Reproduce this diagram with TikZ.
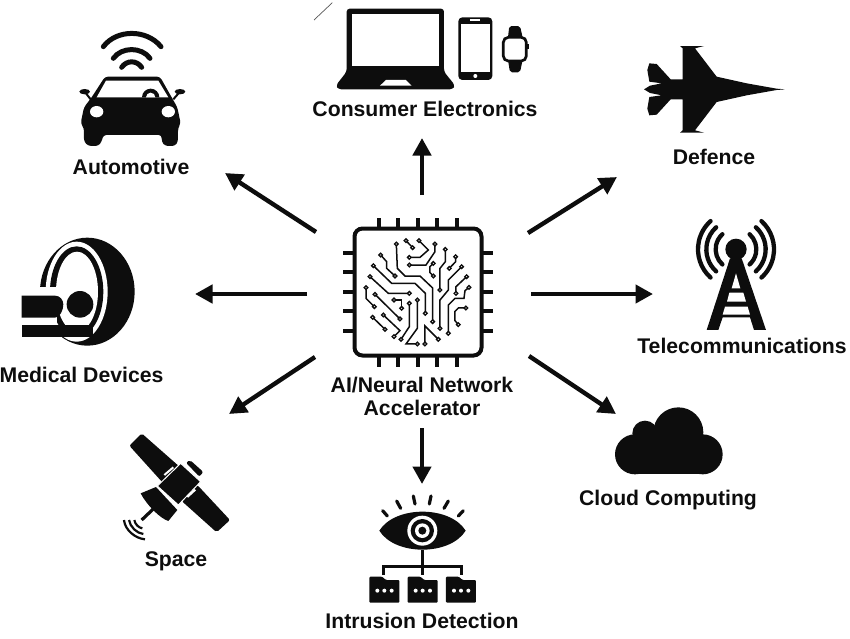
\documentclass[tikz,border=0pt]{standalone}
\usepackage{fontspec}
\setmainfont{Liberation Sans}
\usetikzlibrary{arrows.meta}
\definecolor{ink}{HTML}{0D0D0D}
% circuit trace with a small open pad on each end
\newcommand{\trace}[3]{\draw[line width=1.5pt,ink] (#1) #2 (#3);
	\fill[white,draw=ink,line width=1.3pt] (#1) circle (5.5);
	\fill[white,draw=ink,line width=1.3pt] (#3) circle (5.5);}

\begin{document}
\begin{tikzpicture}[x=1pt,y=-1pt,>={Triangle[width=18pt,length=17.5pt]}]
	\tikzstyle{lbl}=[font=\bfseries\fontsize{21.2}{23}\selectfont,text=ink,align=center,inner sep=0pt]
	\tikzstyle{link}=[->,line width=4.4pt,ink]
	\tikzstyle{zoomed}=[x=0.3333pt,y=-0.3333pt]
	\tikzstyle{lead}=[line width=4pt,ink]
	\tikzstyle{wave}=[line width=4.3pt,ink,line cap=round]
	\useasboundingbox (0,0) rectangle (850,638);

	% labels
	\node[lbl] (accel) at (422,396.5) {AI/Neural Network\\Accelerator};
	\node[lbl] (consumer) at (425,109) {Consumer Electronics};
	\node[lbl] (automotive) at (131,167) {Automotive};
	\node[lbl] (defence) at (714,157) {Defence};
	\node[lbl] (telecom) at (742,346) {Telecommunications};
	\node[lbl] (medical) at (81.5,375) {Medical Devices};
	\node[lbl] (cloud) at (668,500) {Cloud Computing};
	\node[lbl] (space) at (176,561) {Space};
	\node[lbl] (intrusion) at (422,621) {Intrusion Detection};

	% arrows
	\coordinate (c_n) at (422,195); \coordinate (o_n) at (422,138);
	\coordinate (c_ne) at (528,233); \coordinate (o_ne) at (617,177);
	\coordinate (c_e) at (531,294); \coordinate (o_e) at (653,294);
	\coordinate (c_se) at (529,356); \coordinate (o_se) at (616,414);
	\coordinate (c_s) at (422,428); \coordinate (o_s) at (422,484);
	\coordinate (c_sw) at (315,357); \coordinate (o_sw) at (229,414);
	\coordinate (c_w) at (307,294); \coordinate (o_w) at (195,294);
	\coordinate (c_nw) at (316,232); \coordinate (o_nw) at (225,173);
	\foreach \dir in {n,ne,e,se,s,sw,w,nw}
		\draw[link] (c_\dir) -- (o_\dir);

	% chip
	\foreach \p in {253,272,292,311,331} {
		\draw[lead] (343,\p) -- (493,\p);
		\draw[lead] (\p+126,218) -- (\p+126,367);
	}
	\node[draw=ink,fill=white,line width=4pt,rounded corners=8pt,minimum size=127pt,inner sep=0pt] (chip) at (418,292) {};
	\begin{scope}[shift={(320,200)},zoomed]
		\trace{229,132}{-- (232,205) -- (255,228) -- (300,228) -- (338,264) --}{338,365}
		\trace{258,122}{--}{278,143}
		\trace{297,122}{-- (325,150) -- (300,172) --}{268,172}
		\trace{345,132}{-- (345,155) -- (318,195) --}{268,195}
		\trace{376,148}{-- (376,185) -- (360,205) --}{360,270}
		\trace{407,170}{-- (407,185) --}{388,205}
		\trace{340,190}{-- (330,200) -- (330,218) --}{340,228}
		\trace{425,200}{-- (385,240) -- (385,270) -- (360,300) --}{360,385}
		\trace{440,230}{-- (408,260) --}{408,280}
		\trace{447,262}{-- (435,272) -- (432,295) -- (405,295) -- (385,315) --}{385,400}
		\trace{438,324}{-- (415,324) -- (405,334) -- (405,362) --}{415,374}
		\trace{182,165}{-- (200,185) -- (200,205) --}{225,228}
		\trace{160,197}{-- (215,250) -- (285,250) -- (316,280) --}{316,340}
		\trace{150,230}{-- (205,280) --}{268,280}
		\trace{138,263}{-- (138,295) --}{163,320}
		\trace{165,283}{--}{240,357}
		\trace{222,300}{-- (245,300) --}{245,325}
		\trace{268,310}{-- (268,380) --}{243,418}
		\trace{292,300}{-- (292,385) -- (258,432) --}{292,432}
		\trace{190,345}{-- (240,392) --}{222,410}
		\trace{158,352}{--}{195,388}
		\trace{315,432}{-- (315,378) --}{355,418}
	\end{scope}

	% laptop, phone and watch
	\begin{scope}[shift={(300,0)},zoomed]
		\draw[ink!70,line width=0.7pt] (42,60) -- (97,8);
		\fill[ink,rounded corners=3pt] (140,215) -- (140,26) -- (432,26) -- (432,215) -- (465,256) -- (458,268) -- (115,268) -- (108,256) -- cycle;
		\fill[white] (155,42) rectangle (418,198);
		\fill[white] (258,240) -- (318,240) -- (335,257) -- (240,257) -- cycle;
		\fill[ink,rounded corners=4pt] (475,52) rectangle (577,240);
		\fill[white] (483,72) rectangle (570,215);
		\draw[white,line width=1.2pt] (510,60) -- (541,60);
		\fill[white] (526,228) circle (6);
		\fill[ink,rounded corners=2pt] (628,78) -- (660,78) -- (668,112) -- (668,180) -- (660,217) -- (630,217) -- (624,180) -- (624,112) -- cycle;
		\fill[ink] (682,131) rectangle (688,146);
		\draw[ink,fill=white,line width=2.7pt,rounded corners=5pt] (610,112) rectangle (679,183);
	\end{scope}

	% car
	\begin{scope}[shift={(60,20)},zoomed]
		\draw[wave,line width=5pt] (130,80) .. controls (170,27) and (260,27) .. (303,80);
		\draw[wave,line width=5pt] (160,115) .. controls (185,80) and (245,80) .. (270,115);
		\draw[wave,line width=5pt] (185,142) .. controls (200,120) and (230,120) .. (245,142);
		\fill[ink,rounded corners=3pt] (135,170) -- (300,170) -- (335,232) -- (352,262) -- (362,310) -- (354,325) -- (354,365) -- (345,378) -- (315,378) -- (305,365) -- (305,345) -- (130,345) -- (125,365) -- (115,378) -- (85,378) -- (72,365) -- (72,325) -- (62,310) -- (72,262) -- (95,232) -- cycle;
		\fill[white] (110,232) -- (138,182) -- (295,182) -- (325,232) -- cycle;
		\fill[ink] (246,232) arc[start angle=180,end angle=360,radius=26];
		\fill[white] (258,232) arc[start angle=180,end angle=360,radius=14];
		\fill[white] (110,275) ellipse (20 and 17);
		\fill[white] (325,275) ellipse (20 and 17);
		\fill[ink] (74,215) ellipse (16 and 8);
		\fill[ink] (360,215) ellipse (16 and 8);
		\draw[ink,line width=2pt] (74,215) -- (92,238);
		\draw[ink,line width=2pt] (360,215) -- (340,238);
	\end{scope}

	% scanner
	\begin{scope}[shift={(0,225)},zoomed]
		\fill[ink] (262,200) ellipse (142 and 162);
		\fill[white] (230,200) ellipse (93 and 150);
		\fill[ink] (230,200) ellipse (80 and 136);
		\fill[white] (231,200) ellipse (63 and 120);
		\fill[white] (100,187) rectangle (172,345);
		\fill[white] (100,335) rectangle (185,365);
		\fill[ink] (65,300) rectangle (278,335);
		\fill[ink] (65,212) -- (165,212) .. controls (180,212) and (190,225) .. (190,238) .. controls (190,255) and (180,278) .. (165,278) -- (65,278) -- cycle;
		\fill[white] (240,238) circle (48);
		\fill[ink] (240,238) circle (40);
	\end{scope}

	% satellite
	\begin{scope}[shift={(110,425)},zoomed]
		\fill[ink,rounded corners=2pt] (58,62) -- (95,25) -- (212,128) -- (160,175) -- cycle;
		\fill[ink,rounded corners=2pt] (215,228) -- (262,180) -- (360,285) -- (320,322) -- cycle;
		\fill[ink,rounded corners=2pt] (228,113) -- (240,105) -- (280,141) -- (268,155) -- cycle;
		\fill[ink,draw=white,line width=1pt] (142,183) -- (212,115) -- (272,170) -- (205,240) -- cycle;
		\draw[white,line width=2pt] (163,150) -- (190,127) (232,216) -- (256,194);
		\fill[ink] (92,205) -- (138,186) -- (202,255) -- (175,288) .. controls (150,280) and (110,240) .. cycle;
		\draw[ink,line width=3.2pt] (135,247) -- (95,285);
		\draw[ink,line width=2.2pt] (73,285) .. controls (75,297) and (85,308) .. (97,310);
		\draw[ink,line width=2.2pt] (57,285) .. controls (60,305) and (80,325) .. (100,327);
		\draw[ink,line width=2.2pt] (42,285) .. controls (45,315) and (75,340) .. (105,343);
	\end{scope}

	% eye and folders
	\begin{scope}[shift={(360,490)},zoomed]
		\fill[ink] (58,122) .. controls (105,46) and (270,46) .. (317,122) .. controls (270,198) and (105,198) .. cycle;
		\fill[white] (187,122) circle (45);
		\fill[ink] (187,122) circle (35);
		\fill[white] (187,122) circle (22);
		\fill[ink] (187,122) circle (12);
		\draw[ink,line width=3.2pt,line cap=round] (68,62) -- (82,78) (110,33) -- (122,55) (160,18) -- (165,42) (213,18) -- (208,42) (265,33) -- (252,55) (310,62) -- (295,78);
		\draw[ink,line width=2.4pt] (187,180) -- (187,255) (70,255) -- (70,230) -- (305,230) -- (305,255);
		\foreach \fx in {28,143,258} {
			\fill[ink,rounded corners=1pt] (\fx,260) -- (\fx+38,260) -- (\fx+50,270) -- (\fx+90,270) -- (\fx+90,338) -- (\fx,338) -- cycle;
			\foreach \dx in {24,45,67}
				\fill[white] (\fx+\dx,302) circle (6);
		}
	\end{scope}

	% jet
	\begin{scope}[shift={(630,30)},zoomed]
		\fill[ink] (465,178) -- (440,176) -- (350,160) -- (260,140) -- (195,55) -- (222,48) -- (150,48) -- (158,55) -- (158,148) -- (122,148) -- (80,102) -- (58,100) -- (52,120) -- (58,155) -- (95,160) -- (60,167) -- (42,178) -- (60,189) -- (95,196) -- (58,201) -- (52,236) -- (58,256) -- (80,254) -- (122,208) -- (158,208) -- (158,301) -- (150,308) -- (222,308) -- (195,301) -- (260,216) -- (350,196) -- (440,180) -- cycle;
	\end{scope}

	% tower
	\begin{scope}[shift={(680,210)},zoomed]
		\fill[ink] (168,118) circle (32);
		\fill[ink] (150,145) -- (185,145) -- (258,360) -- (222,360) -- (210,322) -- (128,322) -- (115,360) -- (80,360) -- cycle;
		\fill[white] (168,190) -- (155,235) -- (181,235) -- cycle;
		\fill[white] (148,248) -- (190,248) -- (198,275) -- (141,275) -- cycle;
		\fill[white] (135,290) -- (203,290) -- (210,314) -- (128,314) -- cycle;
		\foreach \rad in {61,89,114} {
			\draw[wave] ([shift={(132:\rad)}]168,118) arc[start angle=132,end angle=228,radius=\rad];
			\draw[wave] ([shift={(-48:\rad)}]168,118) arc[start angle=-48,end angle=48,radius=\rad];
		}
	\end{scope}

	% cloud
	\begin{scope}[shift={(600,395)},zoomed]
		\fill[ink] (105,178) circle (60);
		\fill[ink] (308,178) circle (60);
		\fill[ink] (235,112) circle (75);
		\fill[ink] (135,115) circle (38);
		\fill[ink] (105,118) rectangle (308,238);
	\end{scope}
\end{tikzpicture}
\end{document}
